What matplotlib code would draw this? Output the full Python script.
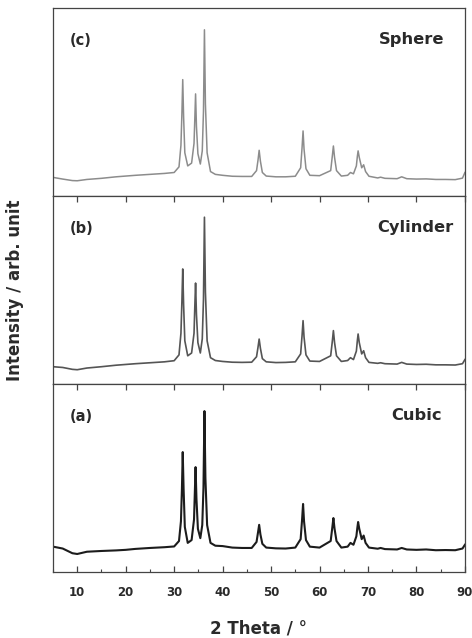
import matplotlib.pyplot as plt
from matplotlib.ticker import MultipleLocator

# 2 theta positions (same grid for all three patterns)
two_theta = [5, 7, 9, 10, 12, 15, 18, 20, 22, 25,
             28, 30, 31.0, 31.4, 31.6, 31.77, 31.95, 32.2, 32.8, 33.6,
             34.1, 34.25, 34.42, 34.6, 34.9, 35.4, 35.8, 36.05, 36.25, 36.45,
             36.8, 37.5, 38.5, 40, 42, 44, 46, 47.0, 47.3, 47.54,
             47.8, 48.2, 49, 51, 53, 55, 56.1, 56.4, 56.6, 56.8,
             57.2, 58, 60, 62.3, 62.65, 62.86, 63.1, 63.5, 64.5, 65.8,
             66.38, 67.0, 67.6, 67.8, 67.96, 68.2, 68.7, 69.1, 69.5, 70.2,
             72, 72.6, 73.5, 76, 76.95, 78, 80, 82, 84, 86,
             88, 89.5, 90]

cubic = [13.5, 12.5, 10.0, 9.6, 10.8, 11.2, 11.5, 11.8, 12.3, 12.8,
         13.2, 13.6, 16.5, 27, 44, 63.8, 44, 24, 15.5, 17,
         28, 41, 55.8, 39, 23, 18, 25, 45, 85.6, 50,
         25, 15.5, 14, 13.8, 13, 12.8, 12.8, 16, 21, 25.1,
         20, 15, 13, 12.6, 12.5, 13, 17.5, 28, 36.2, 27,
         17, 13.5, 13, 16.5, 24, 28.7, 23, 16.5, 13, 13.5,
         15.5, 14.5, 19, 23.5, 26.6, 23, 17.5, 19.4, 15.5, 13,
         12.4, 12.8, 12.2, 12.0, 12.8, 12.0, 11.8, 12.0, 11.6, 11.7,
         11.6, 12.5, 14.5]

cylinder = [9.2, 8.8, 7.8, 7.6, 8.5, 9.2, 10.0, 10.4, 10.8, 11.3,
            11.8, 12.4, 15.5, 27, 44, 61.2, 42, 23, 15, 16.5,
            27, 40, 53.7, 37, 22, 16.5, 24, 45, 88.7, 49,
            23, 14, 12.5, 12, 11.6, 11.5, 11.6, 14.5, 19.5, 23.9,
            19, 13.5, 11.8, 11.4, 11.5, 11.8, 16, 26, 33.7, 25,
            15.5, 12.2, 12, 15, 23, 28.4, 22, 15, 12, 12.5,
            14, 13, 17.5, 23, 26.6, 22, 16, 17.7, 14, 11.5,
            11, 11.3, 10.8, 10.6, 11.5, 10.6, 10.4, 10.5, 10.2, 10.2,
            10.1, 10.8, 13]

sphere = [9.9, 9.0, 8.2, 8.1, 8.8, 9.4, 10.2, 10.6, 11.0, 11.5,
          12.0, 12.5, 15.5, 27, 44, 61.9, 42, 23, 16, 17.5,
          28, 40, 54.3, 37, 22.5, 17, 24, 45, 88.4, 49,
          23, 13, 11.5, 11, 10.5, 10.4, 10.4, 13.5, 19, 24.3,
          18.5, 12.5, 10.6, 10.2, 10.2, 10.5, 15, 26, 34.6, 25,
          14.5, 11, 10.8, 13.5, 21.5, 26.6, 20.5, 13.5, 10.6, 11,
          12.5, 11.8, 16, 21, 24, 20.5, 15, 16.6, 13, 10.5,
          9.6, 10, 9.4, 9.2, 10.2, 9.2, 9.0, 9.1, 8.8, 8.8,
          8.7, 9.5, 12.5]

tags = ["(c)", "(b)", "(a)"]
names = ["Sphere", "Cylinder", "Cubic"]
series = [sphere, cylinder, cubic]
colors = ["#8c8c8c", "#555555", "#1c1c1c"]
widths = [1.1, 1.2, 1.5]
name_x = [0.951, 0.973, 0.944]

fig = plt.figure(figsize=(4.72, 6.38), dpi=100)
axes = fig.subplots(3, 1, sharex=True)
fig.subplots_adjust(left=0.1123, right=0.985, top=0.9875, bottom=0.1034, hspace=0)

for i, (ax, ys, tag, name) in enumerate(zip(axes, series, tags, names)):
    ax.plot(two_theta, ys, color=colors[i], lw=widths[i])
    ax.set_xlim(5, 90)
    ax.set_ylim(0, 100)
    ax.set_yticks([])
    for sp in ax.spines.values():
        sp.set_color("#444444")
        sp.set_linewidth(0.9)
    ax.text(0.04, 0.825, tag, transform=ax.transAxes, fontsize=10.5,
            fontweight="bold", ha="left", va="center", color="#2a2a2a")
    ax.text(name_x[i], 0.83, name, transform=ax.transAxes, fontsize=11.7,
            fontweight="bold", ha="right", va="center", color="#2a2a2a")
    ax.xaxis.set_major_locator(MultipleLocator(10))
    ax.xaxis.set_minor_locator(MultipleLocator(5))
    ax.tick_params(axis="x", which="major", direction="in", length=4,
                   width=0.9, color="#444444", top=(i > 0), bottom=(i == 2),
                   labelbottom=(i == 2), labelsize=8.5, labelcolor="#2a2a2a",
                   pad=10)
    ax.tick_params(axis="x", which="minor", direction="in", length=2.5,
                   width=0.8, color="#444444", top=False, bottom=(i == 2))
    for lbl in ax.get_xticklabels():
        lbl.set_fontweight("bold")

axes[2].set_xlabel("2 Theta / °", fontsize=12, fontweight="bold",
                   color="#2a2a2a", labelpad=15)
fig.text(0.032, 0.545, "Intensity / arb. unit", rotation=90, fontsize=12,
         fontweight="bold", ha="center", va="center", color="#2a2a2a")

fig.savefig("out.png", dpi=100)
